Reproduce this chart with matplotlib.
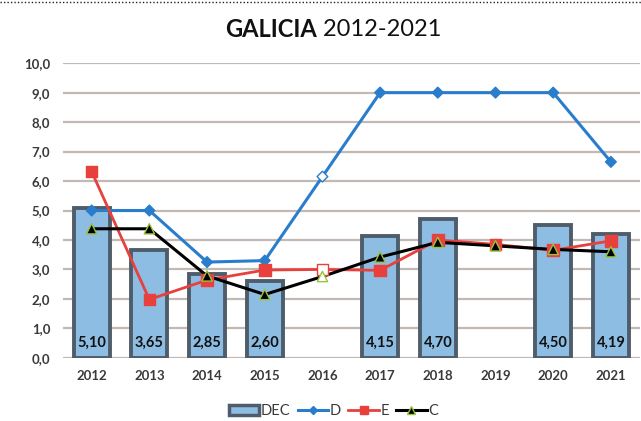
import numpy as np
import matplotlib
matplotlib.use("Agg")
import matplotlib.pyplot as plt
from matplotlib.lines import Line2D
from matplotlib.patches import Patch

years = ["2012", "2013", "2014", "2015", "2016", "2017", "2018", "2019", "2020", "2021"]
dec = [5.10, 3.65, 2.85, 2.60, np.nan, 4.15, 4.70, np.nan, 4.50, 4.19]
d_vals = [5.0, 5.0, 3.25, 3.3, 6.15, 9.0, 9.0, 9.0, 9.0, 6.65]
e_vals = [6.32, 1.98, 2.64, 2.98, 3.0, 2.97, 4.0, 3.85, 3.65, 3.97]
c_vals = [4.38, 4.38, 2.78, 2.15, 2.76, 3.42, 3.92, 3.8, 3.68, 3.6]
hollow_year = "2016"

plt.rcParams["font.family"] = ["Lato", "DejaVu Sans"]

fig = plt.figure(figsize=(6.41, 4.21), dpi=100)
ax = fig.add_axes([0.098, 0.15, 0.90, 0.70])

x = np.arange(len(years))
bar_fill = "#8dbde3"
bar_edge = "#4f5d6b"
blue = "#2a7dcc"
red = "#e8403c"
tri_edge = "#9bc23c"
grid_c = "#c2b8b4"
text_c = "#3a3a3a"

ax.set_ylim(0, 10)
ax.set_xlim(-0.5, len(years) - 0.5)
ax.set_yticks(np.arange(0, 10.01, 1.0))
ax.set_yticklabels([f"{v:.1f}".replace(".", ",") for v in np.arange(0, 10.01, 1.0)])
ax.set_xticks(x)
ax.set_xticklabels(years)
ax.yaxis.grid(True, color=grid_c, linewidth=1.6)
ax.set_axisbelow(True)
for s in ax.spines.values():
    s.set_visible(False)
ax.tick_params(length=0, labelsize=9.5, colors=text_c)
ax.tick_params(axis="x", pad=9)
ax.tick_params(axis="y", pad=9)
for lbl in ax.get_xticklabels() + ax.get_yticklabels():
    lbl.set_fontweight("bold")

ax.bar(x, dec, width=0.62, color=bar_fill, edgecolor=bar_edge, linewidth=2.8, zorder=2)
for xi, v in zip(x, dec):
    if not np.isnan(v):
        ax.text(xi, 0.5, f"{v:.2f}".replace(".", ","), ha="center", va="center",
                fontsize=10.5, fontweight="bold", color="#111111", zorder=5)

hi = years.index(hollow_year)
faces_d = [("white" if i == hi else blue) for i in x]
faces_e = [("white" if i == hi else red) for i in x]
faces_c = [("white" if i == hi else "black") for i in x]

ax.plot(x, d_vals, color=blue, linewidth=2.2, zorder=3)
ax.scatter(x, d_vals, marker="D", s=30, c=faces_d, edgecolors=blue, linewidths=1, zorder=4)
ax.plot(x, e_vals, color=red, linewidth=2.0, zorder=3)
ax.scatter(x, e_vals, marker="s", s=70, c=faces_e, edgecolors=red, linewidths=1, zorder=4)
ax.plot(x, c_vals, color="black", linewidth=2.2, zorder=3)
ax.scatter(x, c_vals, marker="^", s=55, c=faces_c, edgecolors=tri_edge, linewidths=1, zorder=5)

fig.text(0.4945, 0.931, "GALICIA", ha="right", va="center", fontsize=17,
         fontweight="bold", color="#111111")
fig.text(0.4945, 0.931, " 2012-2021", ha="left", va="center", fontsize=17, color="#111111")

# dotted frame edge along the top
fig.add_artist(Line2D([0.0, 1.0], [0.995, 0.995], transform=fig.transFigure,
                      color="#222222", linewidth=1.0, linestyle=(0, (1, 1.5))))

handles = [
    Patch(facecolor=bar_fill, edgecolor=bar_edge, linewidth=2.5, label="DEC"),
    Line2D([], [], color=blue, marker="D", markersize=4, linewidth=2.2, label="D"),
    Line2D([], [], color=red, marker="s", markersize=6, linewidth=2.0, label="E"),
    Line2D([], [], color="black", marker="^", markersize=6, markeredgecolor=tri_edge,
           linewidth=2.2, label="C"),
]
fig.legend(handles=handles, loc="center", bbox_to_anchor=(0.52, 0.024), ncol=4,
           frameon=False, fontsize=10.5, handlelength=2.1, handletextpad=0.1,
           columnspacing=0.5, labelcolor=text_c)

fig.savefig("out.png", dpi=100, facecolor="white")
